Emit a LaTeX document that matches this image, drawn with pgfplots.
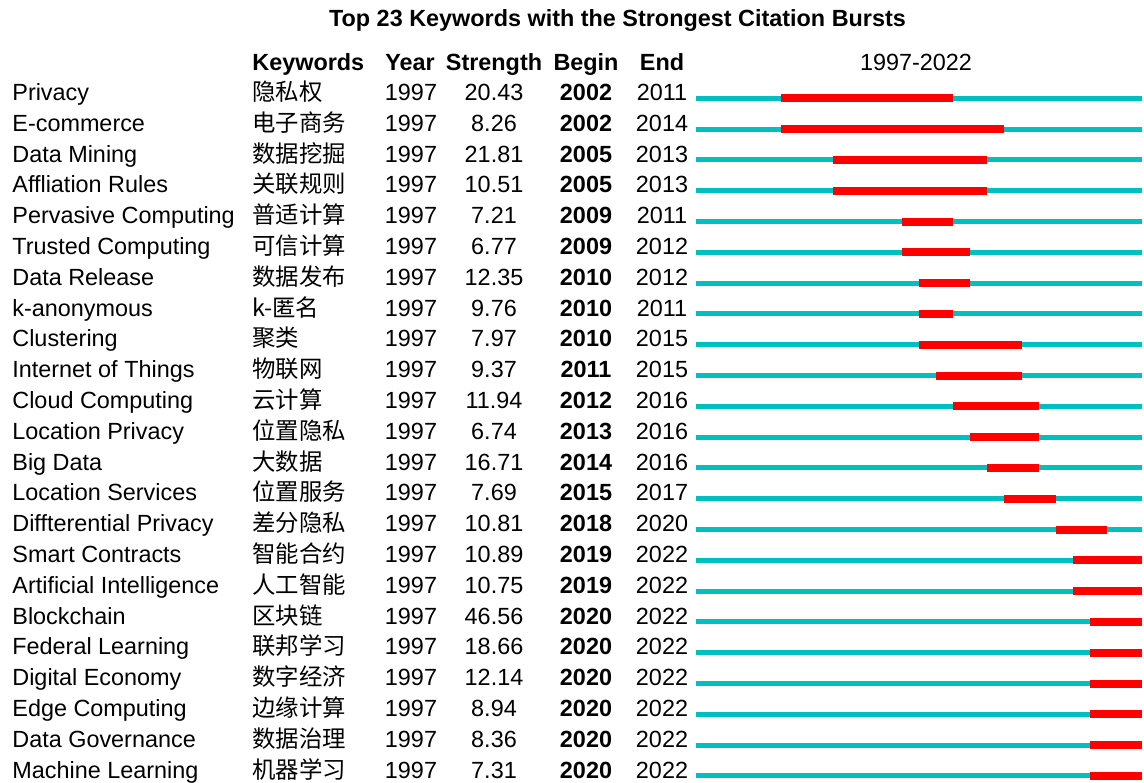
\documentclass[border=0pt]{standalone}
\usepackage{fontspec}
\setmainfont{Liberation Sans}
\newfontfamily\cjk{Noto Sans CJK SC}
\usepackage{pgfplots}
\usepackage{pgfplotstable}
\pgfplotsset{compat=1.18}
\definecolor{burstcyan}{RGB}{0,191,191}
\definecolor{burstred}{RGB}{255,0,0}
\pgfplotstableread[col sep=comma]{
kw,cn,year,strength,begin,end
Privacy,隐私权,1997,20.43,2002,2011
E-commerce,电子商务,1997,8.26,2002,2014
Data Mining,数据挖掘,1997,21.81,2005,2013
Affliation Rules,关联规则,1997,10.51,2005,2013
Pervasive Computing,普适计算,1997,7.21,2009,2011
Trusted Computing,可信计算,1997,6.77,2009,2012
Data Release,数据发布,1997,12.35,2010,2012
k-anonymous,k-匿名,1997,9.76,2010,2011
Clustering,聚类,1997,7.97,2010,2015
Internet of Things,物联网,1997,9.37,2011,2015
Cloud Computing,云计算,1997,11.94,2012,2016
Location Privacy,位置隐私,1997,6.74,2013,2016
Big Data,大数据,1997,16.71,2014,2016
Location Services,位置服务,1997,7.69,2015,2017
Diffterential Privacy,差分隐私,1997,10.81,2018,2020
Smart Contracts,智能合约,1997,10.89,2019,2022
Artificial Intelligence,人工智能,1997,10.75,2019,2022
Blockchain,区块链,1997,46.56,2020,2022
Federal Learning,联邦学习,1997,18.66,2020,2022
Digital Economy,数字经济,1997,12.14,2020,2022
Edge Computing,边缘计算,1997,8.94,2020,2022
Data Governance,数据治理,1997,8.36,2020,2022
Machine Learning,机器学习,1997,7.31,2020,2022
}\bursts
\newcommand{\fs}{\fontsize{11.7}{13}\selectfont}
\begin{document}
\begin{tikzpicture}
\begin{axis}[
  width=572pt, height=391pt, scale only axis,
  xmin=0, xmax=1144, ymin=0, ymax=782, y dir=reverse,
  hide axis, clip=false,
  every node near coord/.append style={inner sep=0pt, text=black},
]
\addplot[draw=none, mark=none] coordinates {(0,0) (1144,782)};
% timeline 1997-2022
\addplot[burstcyan, line width=2.5pt, mark=none, quiver={u=446, v=0}]
  table[x expr=695.7, y expr=98.3+30.8*\coordindex]{\bursts};
% bursts
\addplot[burstred, line width=4pt, mark=none,
  quiver={u={17.154*(\thisrow{end}-\thisrow{begin}+1)}, v=0}]
  table[x expr={695.7+17.154*(\thisrow{begin}-1997)}, y expr=98.3+30.8*\coordindex]{\bursts};
% text columns
\addplot[draw=none, mark=none, nodes near coords, point meta=explicit symbolic,
  every node near coord/.append style={anchor=base west, font=\fs}]
  table[x expr=12, y expr=100.5+30.8*\coordindex, meta=kw]{\bursts};
\addplot[draw=none, mark=none, nodes near coords, point meta=explicit symbolic,
  every node near coord/.append style={anchor=base west, font=\cjk\fs}]
  table[x expr=252, y expr=100.5+30.8*\coordindex, meta=cn]{\bursts};
\addplot[draw=none, mark=none, nodes near coords, point meta=explicit symbolic,
  every node near coord/.append style={anchor=base, font=\fs}]
  table[x expr=411, y expr=100.5+30.8*\coordindex, meta=year]{\bursts};
\addplot[draw=none, mark=none, nodes near coords, point meta=explicit symbolic,
  every node near coord/.append style={anchor=base, font=\fs}]
  table[x expr=494, y expr=100.5+30.8*\coordindex, meta=strength]{\bursts};
\addplot[draw=none, mark=none, nodes near coords, point meta=explicit symbolic,
  every node near coord/.append style={anchor=base, font=\fs\bfseries}]
  table[x expr=586, y expr=100.5+30.8*\coordindex, meta=begin]{\bursts};
\addplot[draw=none, mark=none, nodes near coords, point meta=explicit symbolic,
  every node near coord/.append style={anchor=base, font=\fs}]
  table[x expr=662, y expr=100.5+30.8*\coordindex, meta=end]{\bursts};
% title and headers
\node[anchor=base, inner sep=0pt, font=\fs\bfseries] at (axis cs:617.5,26.7) {Top 23 Keywords with the Strongest Citation Bursts};
\node[anchor=base west, inner sep=0pt, font=\fs\bfseries] at (axis cs:252,70) {Keywords};
\node[anchor=base, inner sep=0pt, font=\fs\bfseries] at (axis cs:410,70) {Year};
\node[anchor=base, inner sep=0pt, font=\fs\bfseries] at (axis cs:494,70) {Strength};
\node[anchor=base, inner sep=0pt, font=\fs\bfseries] at (axis cs:586,70) {Begin};
\node[anchor=base, inner sep=0pt, font=\fs\bfseries] at (axis cs:662,70) {End};
\node[anchor=base, inner sep=0pt, font=\fs] at (axis cs:916,70) {1997-2022};
\end{axis}
\pgfresetboundingbox
\useasboundingbox (0,0) rectangle (572pt,391pt);
\end{tikzpicture}
\end{document}
